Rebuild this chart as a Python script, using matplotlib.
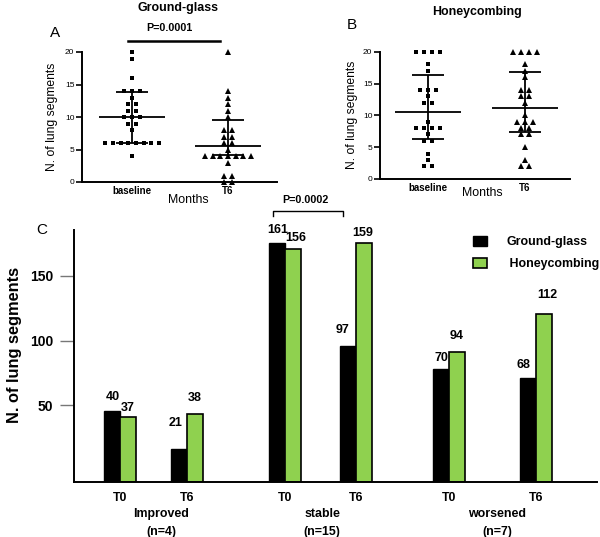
import matplotlib
matplotlib.use('Agg')
import matplotlib.pyplot as plt
import numpy as np
from matplotlib.lines import Line2D
from matplotlib.patches import Patch

plt.rcParams['font.family'] = ['Liberation Sans', 'DejaVu Sans']

# ---------------- data ----------------
scatter_cats = ['baseline', 'T6']

# Panel A: Ground-glass, lung segments per patient
gg_baseline = [20, 19, 16, 14, 14, 14, 13, 12, 12, 11, 11, 10, 10, 10, 9, 9, 8,
               6, 6, 6, 6, 6, 6, 6, 6, 4]
gg_t6 = [20, 14, 13, 12, 11, 10, 8, 8, 7, 7, 6, 6, 5, 4, 4, 4, 4, 4, 4, 4, 3,
         1, 1, 0, 0]
gg_center = [10.0, 5.5]
gg_upper = [13.8, 9.5]
gg_lower = [6.0, 4.2]

# Panel B: Honeycombing
hc_baseline = [20, 20, 20, 20, 18, 17, 14, 14, 14, 13, 12, 12, 9, 8, 8, 8, 8,
               7, 6, 6, 4, 3, 2, 2]
hc_t6 = [20, 20, 20, 20, 18, 17, 16, 14, 14, 13, 13, 12, 10, 9, 9, 9, 8, 8, 7,
         7, 5, 3, 2, 2]
hc_center = [10.6, 11.1]
hc_upper = [16.3, 16.8]
hc_lower = [6.3, 7.4]

# Panel C: bars (drawn heights) and printed value labels
group_names = ['Improved\n(n=4)', 'stable\n(n=15)', 'worsened\n(n=7)']
timepoints = ['T0', 'T6', 'T0', 'T6', 'T0', 'T6']
gg_bar = [45.6, 16.5, 175.0, 95.8, 77.8, 70.8]
hc_bar = [41.0, 43.3, 170.4, 175.0, 90.9, 120.4]
gg_labels = [40, 21, 161, 97, 70, 68]
hc_labels = [37, 38, 156, 159, 94, 112]

# ---------------- layout helpers ----------------
W, H = 600, 537
fig = plt.figure(figsize=(6.0, 5.37), dpi=100)


def fx(px):
    return px / W


def fy(py):
    return 1 - py / H


def ax_at(left, top, right, bottom):
    return fig.add_axes([fx(left), fy(bottom), (right - left) / W, (bottom - top) / H])


def swarm_x(values, center, step):
    vals = np.asarray(values, float)
    xs = np.empty_like(vals)
    for v in np.unique(vals):
        idx = np.where(vals == v)[0]
        n = len(idx)
        xs[idx] = center + (np.arange(n) - (n - 1) / 2) * step
    return xs


def scatter_panel(ax, series, markers, center, upper, lower, xlim, msizes):
    for i, (vals, m, ms) in enumerate(zip(series, markers, msizes)):
        ax.plot(swarm_x(vals, i, 0.08), vals, linestyle='none', marker=m,
                color='black', markersize=ms, markeredgewidth=0, clip_on=False, zorder=3)
        ax.hlines(center[i], i - 0.34, i + 0.34, color='black', lw=1.3, zorder=4)
        ax.hlines([upper[i], lower[i]], i - 0.17, i + 0.17, color='black', lw=1.3, zorder=4)
        ax.vlines(i, lower[i], upper[i], color='black', lw=1.3, zorder=4)
    ax.set_xlim(*xlim)
    ax.set_ylim(0, 20)
    ax.set_yticks([0, 5, 10, 15, 20])
    ax.set_xticks([0, 1])
    ax.set_xticklabels(scatter_cats, fontsize=7, fontweight='bold')
    ax.tick_params(axis='x', length=0, pad=3)
    ax.tick_params(axis='y', length=4, width=1.2, labelsize=6, pad=1.5)
    for s in ['top', 'right']:
        ax.spines[s].set_visible(False)
    for s in ['left', 'bottom']:
        ax.spines[s].set_linewidth(1.4)
    ax.patch.set_alpha(0)


# ---------------- Panel A ----------------
axA = ax_at(82, 52, 277, 182)
scatter_panel(axA, [gg_baseline, gg_t6], ['s', '^'], gg_center, gg_upper, gg_lower,
              (-0.521, 1.51), [3.0, 4.0])
fig.text(fx(178), fy(8), 'Ground-glass', ha='center', va='center', fontsize=8.9, fontweight='bold')
fig.text(fx(55), fy(33), 'A', ha='center', va='center', fontsize=11)
fig.text(fx(169), fy(28), 'P=0.0001', ha='center', va='center', fontsize=7.7, fontweight='bold')
fig.add_artist(Line2D([fx(128), fx(220)], [fy(41), fy(41)], transform=fig.transFigure,
                      color='black', lw=1.8))
fig.text(fx(52), fy(117), 'N. of lung segments', ha='center', va='center', rotation=90, fontsize=8.7)
fig.text(fx(188), fy(200), 'Months', ha='center', va='center', fontsize=8.9)

# ---------------- Panel B ----------------
axB = ax_at(380, 51.7, 570, 179)
scatter_panel(axB, [hc_baseline, hc_t6], ['s', '^'], hc_center, hc_upper, hc_lower,
              (-0.495, 1.464), [3.0, 4.0])
fig.text(fx(477), fy(12), 'Honeycombing', ha='center', va='center', fontsize=8.9, fontweight='bold')
fig.text(fx(352), fy(25), 'B', ha='center', va='center', fontsize=11)
fig.text(fx(352), fy(115), 'N. of lung segments', ha='center', va='center', rotation=90, fontsize=8.7)
fig.text(fx(482), fy(193), 'Months', ha='center', va='center', fontsize=8.9)

# ---------------- Panel C ----------------
axC = ax_at(74, 230, 597, 482)
ymin, ymax = -9.2, 185.3
pair_x = np.array([46, 113, 211, 282, 375, 462])  # pair centres (px from axis left)
bw = 16
gg_x = pair_x - bw / 2
hc_x = pair_x + bw / 2
axC.bar(gg_x, np.array(gg_bar) - ymin, bottom=ymin, width=bw, color='black',
        edgecolor='black', linewidth=1.0, zorder=2)
axC.bar(hc_x, np.array(hc_bar) - ymin, bottom=ymin, width=bw, color='#8FD14F',
        edgecolor='black', linewidth=1.2, zorder=2)

# label offsets: pixels right / pixels above bar top
gg_dx = [1, -3, 1, -5, 0, -5]
gg_dy = [14, 26, 13, 16, 11, 13]
hc_dx = [0, 0, 3, -1, 0, 3]
hc_dy = [9, 16, 11, 10, 16, 19]
for i in range(len(pair_x)):
    axC.annotate(str(gg_labels[i]), (gg_x[i], gg_bar[i]), xytext=(gg_dx[i], gg_dy[i]),
                 textcoords='offset pixels', ha='center', va='center', fontsize=9,
                 fontweight='bold', annotation_clip=False)
    axC.annotate(str(hc_labels[i]), (hc_x[i], hc_bar[i]), xytext=(hc_dx[i], hc_dy[i]),
                 textcoords='offset pixels', ha='center', va='center', fontsize=9,
                 fontweight='bold', annotation_clip=False)

axC.set_xlim(0, 523)
axC.set_ylim(ymin, ymax)
axC.set_yticks([50, 100, 150])
axC.set_yticklabels(['50', '100', '150'], fontsize=10, fontweight='bold')
axC.tick_params(axis='y', length=10, width=1, color='#777777', pad=5)
axC.set_xticks(pair_x)
axC.set_xticklabels(timepoints, fontsize=8.8, fontweight='bold')
axC.tick_params(axis='x', length=0, pad=7)
for s in ['top', 'right']:
    axC.spines[s].set_visible(False)
axC.spines['left'].set_linewidth(1.4)
axC.spines['bottom'].set_linewidth(1.4)

group_centers = [161, 322, 497]
for gx, name in zip(group_centers, group_names):
    fig.text(fx(gx), fy(523), name, ha='center', va='center', fontsize=8.9,
             fontweight='bold', linespacing=1.7)

fig.text(fx(15), fy(345), 'N. of lung segments', ha='center', va='center', rotation=90,
         fontsize=11.8, fontweight='bold')
fig.text(fx(42), fy(230), 'C', ha='center', va='center', fontsize=11)

# significance bracket
fig.add_artist(Line2D([fx(273), fx(273), fx(343), fx(343)],
                      [fy(216), fy(211), fy(211), fy(216)],
                      transform=fig.transFigure, color='black', lw=1.0))
fig.text(fx(305), fy(200), 'P=0.0002', ha='center', va='center', fontsize=7.7, fontweight='bold')

handles = [Patch(facecolor='black', edgecolor='black'),
           Patch(facecolor='#8FD14F', edgecolor='black', linewidth=1.2)]
fig.legend(handles, ['Ground-glass', ' Honeycombing'], loc='upper left',
           bbox_to_anchor=(fx(473), fy(236)), frameon=False, borderpad=0,
           borderaxespad=0, handlelength=1.1, handleheight=0.9, handletextpad=1.6,
           labelspacing=0.75, prop={'size': 8.9, 'weight': 'bold'})

fig.savefig('out.png', dpi=100)
